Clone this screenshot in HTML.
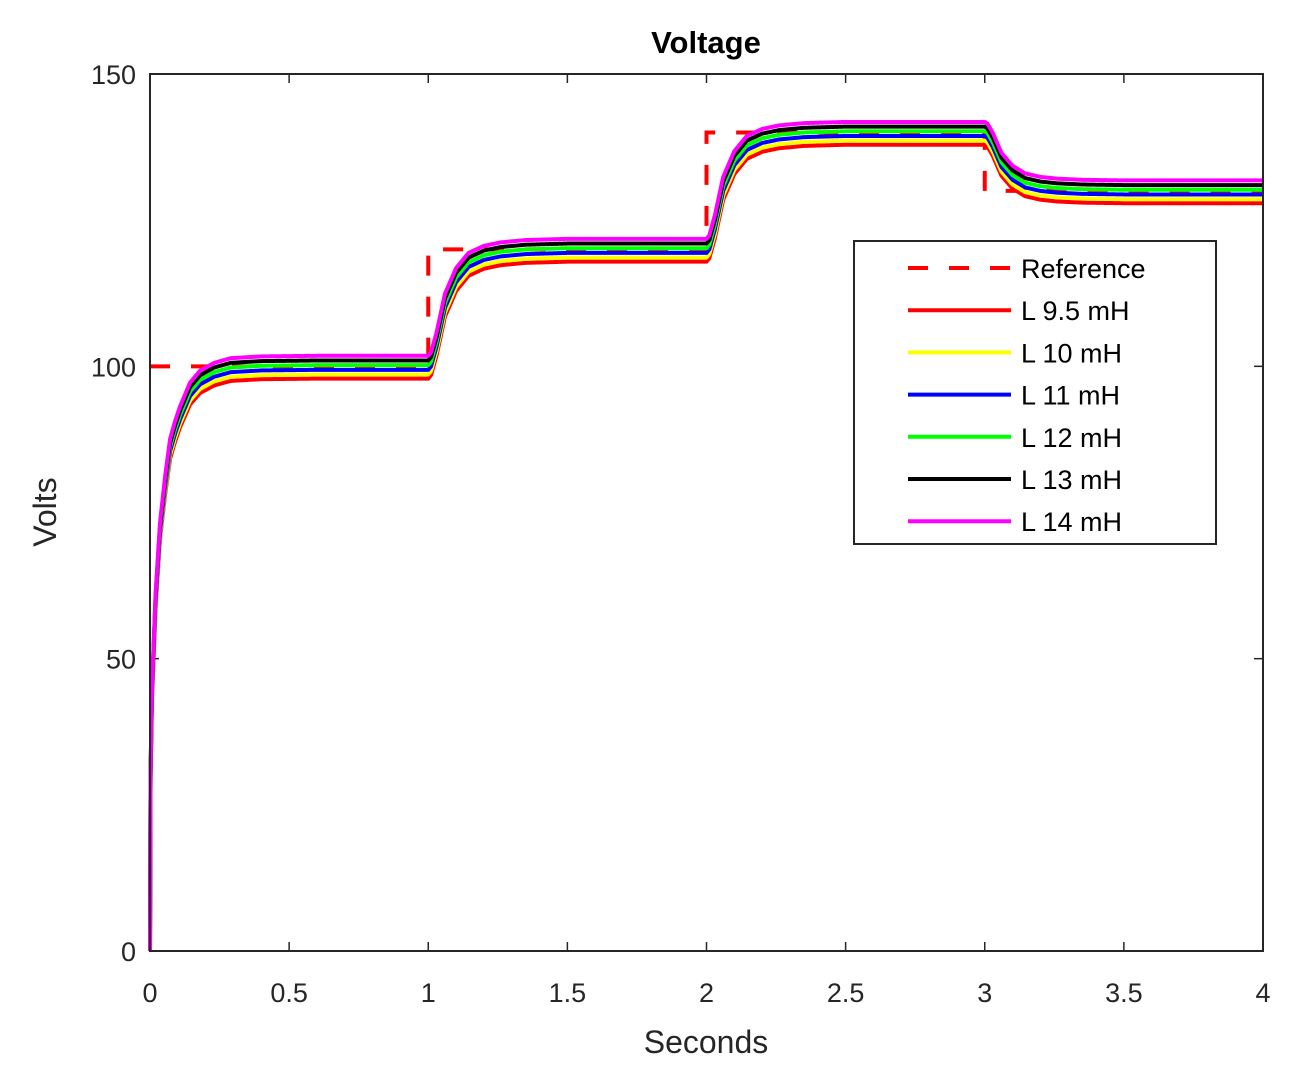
<!DOCTYPE html>
<html><head><meta charset="utf-8">
<style>
html,body{margin:0;padding:0;background:#fff;}
svg{display:block;font-family:"Liberation Sans",Arial,sans-serif;}
</style></head>
<body>
<svg id="chart" width="1299" height="1070" viewBox="0 0 1299 1070" xmlns="http://www.w3.org/2000/svg">
<rect x="0" y="0" width="1299" height="1070" fill="#fff"/>
<g id="ticks"></g>
<g id="series"></g>
<rect x="150" y="74" width="1113" height="877" fill="none" stroke="#262626" stroke-width="2"/>
<text x="706" y="53" text-anchor="middle" font-size="31" font-weight="bold" fill="#000">Voltage</text>
<text x="706" y="1053" text-anchor="middle" font-size="32" fill="#262626">Seconds</text>
<text x="0" y="0" transform="translate(56,512) rotate(-90)" text-anchor="middle" font-size="32" fill="#262626">Volts</text>
<g id="legend"></g>
</svg>
<script>
// ---- data ----
const xTicks = [0, 0.5, 1, 1.5, 2, 2.5, 3, 3.5, 4];
const xTickLabels = ["0", "0.5", "1", "1.5", "2", "2.5", "3", "3.5", "4"];
const yTicks = [0, 50, 100, 150];
const yTickLabels = ["0", "50", "100", "150"];
const refTimes = [0, 1, 2, 3, 4];
const refLevels = [100, 120, 140, 130];
const seriesNames = ["L 9.5 mH", "L 10 mH", "L 11 mH", "L 12 mH", "L 13 mH", "L 14 mH"];
const seriesColors = ["#ff0000", "#ffff00", "#0000ff", "#00ff00", "#000000", "#ff00ff"];
const seriesOffset = [-2.1, -1.4, -0.6, 0.2, 1.0, 1.8];
// start-up response (fraction of level) vs time
const startT = [0, 0.002, 0.007, 0.02, 0.036, 0.055, 0.072, 0.09, 0.108, 0.126, 0.144, 0.18, 0.23, 0.29, 0.4, 0.6, 1.0];
const startF = [0, 0.3, 0.44, 0.6, 0.72, 0.8, 0.86, 0.89, 0.915, 0.935, 0.955, 0.975, 0.988, 0.996, 0.999, 1, 1];
// step response (fraction of step) vs time after step
const stepT = [0, 0.01, 0.03, 0.06, 0.1, 0.145, 0.2, 0.26, 0.35, 0.5, 1.0];
const stepF = [0, 0.03, 0.2, 0.53, 0.75, 0.88, 0.94, 0.97, 0.99, 1, 1];

// ---- axes ----
const X0 = 150, X1 = 1263, Y0 = 951, Y1 = 74;
const xS = t => X0 + (t - 0) / 4 * (X1 - X0);
const yS = v => Y0 - v / 150 * (Y0 - Y1);
const NS = "http://www.w3.org/2000/svg";
function mk(tag, attrs, parent) {
  const e = document.createElementNS(NS, tag);
  for (const k in attrs) e.setAttribute(k, attrs[k]);
  parent.appendChild(e);
  return e;
}
function interp(T, F, t) {
  if (t <= T[0]) return F[0];
  for (let i = 1; i < T.length; i++) {
    if (t <= T[i]) {
      const u = (t - T[i-1]) / (T[i] - T[i-1]);
      return F[i-1] + (F[i] - F[i-1]) * u;
    }
  }
  return F[F.length - 1];
}
const tg = document.getElementById('ticks');
xTicks.forEach((v, i) => {
  const x = xS(v);
  const a = mk('line', {x1: x, x2: x, y1: Y0, y2: Y0 - 9, stroke: '#262626', 'stroke-width': 1.5}, tg);
  
  
  const b = mk('line', {x1: x, x2: x, y1: Y1, y2: Y1 + 9, stroke: '#262626', 'stroke-width': 1.5}, tg);
  
  
  const t = mk('text', {x: x, y: 1002, 'text-anchor': 'middle', 'font-size': 27, fill: '#262626'}, tg);
  t.textContent = xTickLabels[i];
  
  
});
yTicks.forEach((v, i) => {
  const y = yS(v);
  const a = mk('line', {x1: X0, x2: X0 + 9, y1: y, y2: y, stroke: '#262626', 'stroke-width': 1.5}, tg);
  
  
  const b = mk('line', {x1: X1, x2: X1 - 9, y1: y, y2: y, stroke: '#262626', 'stroke-width': 1.5}, tg);
  
  
  const t = mk('text', {x: 136, y: y + 10, 'text-anchor': 'end', 'font-size': 27, fill: '#262626'}, tg);
  t.textContent = yTickLabels[i];
  
  
});

// ---- series ----
const sg = document.getElementById('series');
let refD = '';
for (let i = 0; i < refLevels.length; i++) {
  const y = yS(refLevels[i]);
  refD += (i === 0 ? 'M' : 'L') + xS(refTimes[i]) + ',' + y + ' L' + xS(refTimes[i+1]) + ',' + y + ' ';
}
const ref = mk('path', {d: refD, fill: 'none', stroke: '#ff0000', 'stroke-width': 4, 'stroke-dasharray': '20,21'}, sg);



function value(t, off) {
  let seg = 0;
  for (let i = 1; i < refLevels.length; i++) if (t >= refTimes[i]) seg = i;
  if (seg === 0) return (refLevels[0] + off) * interp(startT, startF, t);
  const prev = refLevels[seg-1], cur = refLevels[seg];
  return prev + off + (cur - prev) * interp(stepT, stepF, t - refTimes[seg]);
}
seriesNames.forEach((name, s) => {
  const pts = [];
  const N = 1600;
  for (let k = 0; k <= N; k++) {
    const t = 4 * k / N;
    const tt = (k === 1) ? 0.002 : t;
    pts.push(xS(tt).toFixed(2) + ',' + yS(value(tt, seriesOffset[s])).toFixed(2));
  }
  const p = mk('polyline', {points: pts.join(' '), fill: 'none', stroke: seriesColors[s], 'stroke-width': 4, 'stroke-linejoin': 'round'}, sg);
  
  
});

// ---- legend ----
const lg = document.getElementById('legend');
const box = mk('rect', {x: 854, y: 241, width: 362, height: 303, fill: '#fff', stroke: '#262626', 'stroke-width': 2}, lg);


const legNames = ["Reference"].concat(seriesNames);
const legColors = ["#ff0000"].concat(seriesColors);
legNames.forEach((n, i) => {
  const y = 268 + i * 42.2;
  const l = mk('line', {x1: 908, x2: 1011, y1: y, y2: y, stroke: legColors[i], 'stroke-width': 4}, lg);
  if (i === 0) l.setAttribute('stroke-dasharray', '20,21');
  
  
  const t = mk('text', {x: 1021, y: y + 10, 'font-size': 27, fill: '#000'}, lg);
  t.textContent = n;
  
  
});
</script>
</body></html>
